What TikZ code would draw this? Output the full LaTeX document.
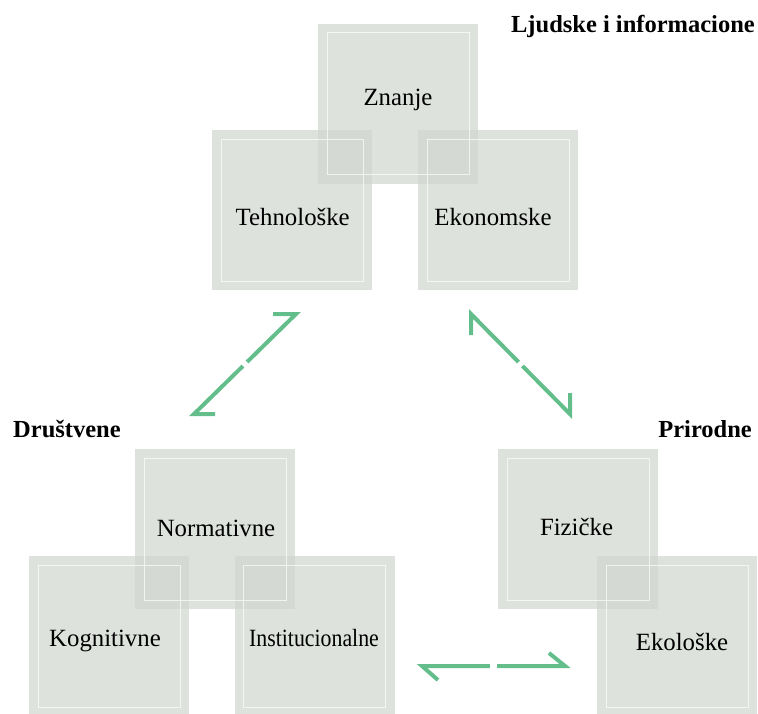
\documentclass[tikz,border=0pt]{standalone}
\usepackage{fontspec}
\setmainfont{Liberation Serif}
\usetikzlibrary{calc}
\definecolor{boxfill}{RGB}{209,215,208}
\definecolor{arrowgreen}{RGB}{100,190,140}
\tikzset{
  box/.style={rectangle, fill=boxfill, fill opacity=0.73, draw=none,
    minimum width=160pt, minimum height=160pt, inner sep=0pt, outer sep=0pt},
  innerframe/.style={draw=white, draw opacity=0.7, line width=0.9pt},
  lbl/.style={font=\fontsize{24.8}{28}\selectfont, anchor=base, inner sep=0pt, text=black},
  ttl/.style={font=\fontsize{24.5}{28}\selectfont\bfseries, inner sep=0pt, text=black},
  conn/.style={draw=arrowgreen, line width=4pt, line join=miter, line cap=butt},
}
\begin{document}
\begin{tikzpicture}[x=1pt,y=-1pt]
\useasboundingbox (0,0) rectangle (758,713);
\clip (0,0) rectangle (758,713);

% boxes
\node[box] (znanje) at (398,103.5) {};
\node[box] (tehno)  at (292,210) {};
\node[box] (ekon)   at (498,210) {};
\node[box] (norm)   at (215,529) {};
\node[box] (kogn)   at (109,636) {};
\node[box] (inst)   at (314.5,636) {};
\node[box] (fiz)    at (578,529) {};
\node[box] (eko)    at (677,636) {};

\foreach \n in {znanje,tehno,ekon,norm,kogn,inst,fiz,eko}
  \draw[innerframe] ([xshift=9pt,yshift=-9pt]\n.north west) rectangle ([xshift=-9pt,yshift=9pt]\n.south east);

% labels
\node[lbl] (tZn) at (398,105) {Znanje};
\node[lbl] (tTe) at (292.7,225) {Tehnološke};
\node[lbl] (tEk) at (493,225) {Ekonomske};
\node[lbl] (tNo) at (216,536.7) {Normativne};
\node[lbl] (tKo) at (105,646.7) {Kognitivne};
\node[lbl] (tIn) at (314,646.7) {\scalebox{0.88}[1]{Institucionalne}};
\node[lbl] (tFi) at (576.5,535) {Fizičke};
\node[lbl] (tEl) at (682,650.7) {Ekološke};

% titles
\node[ttl, anchor=base east] (tLj) at (755,32) {Ljudske i informacione};
\node[ttl, anchor=base west] (tDr) at (13,437) {Društvene};
\node[ttl, anchor=base east] (tPr) at (752,437) {Prirodne};

% arrows
\coordinate (a1t) at (296,314);
\coordinate (a1tb) at (273,314);
\coordinate (a1b) at (194,414);
\coordinate (a1bb) at (215,414);
\draw[conn] (a1tb) -- (a1t) -- ($(a1t)!0.48!(a1b)$);
\draw[conn] (a1bb) -- (a1b) -- ($(a1b)!0.48!(a1t)$);

\coordinate (a2t) at (471,314);
\coordinate (a2tb) at (471,335);
\coordinate (a2b) at (570,414);
\coordinate (a2bb) at (570,393);
\draw[conn] (a2tb) -- (a2t) -- ($(a2t)!0.48!(a2b)$);
\draw[conn] (a2bb) -- (a2b) -- ($(a2b)!0.48!(a2t)$);

\coordinate (a3l) at (422,666);
\coordinate (a3lb) at (438,680);
\coordinate (a3r) at (565,666);
\coordinate (a3rb) at (549,653);
\draw[conn] (a3lb) -- (a3l) -- ($(a3l)!0.475!(a3r)$);
\draw[conn] (a3rb) -- (a3r) -- ($(a3r)!0.475!(a3l)$);
\end{tikzpicture}
\end{document}
